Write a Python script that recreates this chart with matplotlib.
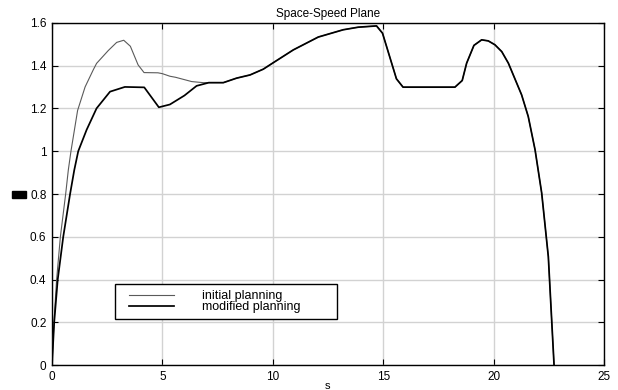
import matplotlib
matplotlib.use("Agg")
import matplotlib.pyplot as plt
from matplotlib.patches import Rectangle

plt.rcParams['font.family'] = ['Liberation Sans', 'DejaVu Sans']

# ---- data ----
s_initial_start = [0, 0.09, 0.21, 0.38, 0.62, 0.74, 0.86, 1.16, 1.5, 1.87, 2.02, 2.55, 2.93,
                   3.25, 3.55, 3.9, 4.17, 4.8, 5.0, 5.34, 5.6, 6.33, 6.85, 7.1]
v_initial_start = [0, 0.2, 0.4, 0.6, 0.8, 0.912, 1.0, 1.19, 1.30, 1.38, 1.41, 1.47, 1.508,
                   1.518, 1.49, 1.403, 1.367, 1.366, 1.362, 1.35, 1.345, 1.325, 1.32, 1.32]

s_modified_start = [0, 0.1, 0.26, 0.51, 0.82, 1.01, 1.19, 1.57, 2.02, 2.63, 3.3, 4.18,
                    4.84, 5.34, 6.0, 6.55, 7.1]
v_modified_start = [0, 0.2, 0.4, 0.6, 0.8, 0.912, 1.0, 1.1, 1.2, 1.278, 1.30, 1.298,
                    1.205, 1.218, 1.26, 1.305, 1.32]

s_common = [7.76, 8.36, 8.97, 9.57, 9.99, 10.93, 12.06, 13.19, 13.87, 14.7, 14.97, 15.6,
            15.9, 18.25, 18.58, 18.78, 19.11, 19.46, 19.76, 20.06, 20.37, 20.67, 21.27,
            21.57, 21.88, 22.18, 22.48, 22.74]
v_common = [1.32, 1.341, 1.356, 1.383, 1.411, 1.473, 1.533, 1.567, 1.579, 1.585, 1.551,
            1.338, 1.299, 1.299, 1.33, 1.411, 1.494, 1.52, 1.515, 1.497, 1.465, 1.411,
            1.263, 1.162, 1.006, 0.804, 0.507, 0.0]

x_ticks = [0, 5, 10, 15, 20, 25]
y_ticks = [0, 0.2, 0.4, 0.6, 0.8, 1.0, 1.2, 1.4, 1.6]
y_tick_labels = ['0', '0.2', '0.4', '0.6', '0.8', '1', '1.2', '1.4', '1.6']
series_labels = ['initial planning', 'modified planning']
title = 'Space-Speed Plane'
x_label = 's'

# ---- figure ----
fig = plt.figure(figsize=(6.18, 3.90), dpi=100)
ax = fig.add_axes([0.0841, 0.0633, 0.8932, 0.8785])

s_init = s_initial_start + s_common
v_init = v_initial_start + v_common
s_mod = s_modified_start + s_common
v_mod = v_modified_start + v_common

ax.plot(s_init, v_init, color='#5a5a5a', lw=0.8, label=series_labels[0], zorder=3)
ax.plot(s_mod, v_mod, color='black', lw=1.25, label=series_labels[1], zorder=4)

ax.set_xlim(0, 25)
ax.set_ylim(0, 1.6)
ax.set_xticks(x_ticks)
ax.set_yticks(y_ticks)
ax.set_yticklabels(y_tick_labels)
ax.grid(True, color='#d2d2d2', lw=1.0)
ax.set_axisbelow(True)
ax.tick_params(direction='in', length=4, width=0.8, labelsize=8.5,
               top=True, right=True, pad=4, colors='black')
for sp in ax.spines.values():
    sp.set_linewidth(1.0)
    sp.set_color('black')

ax.set_title(title, fontsize=8.5, pad=4)
ax.set_xlabel(x_label, fontsize=8)
ax.xaxis.set_label_coords(0.5, -0.047)

leg = ax.legend(loc='upper left', bbox_to_anchor=(0.140, 0.219), frameon=False,
                fontsize=9, handlelength=3.58, handletextpad=2.2,
                labelspacing=-0.1, borderpad=0, borderaxespad=0)
ax.add_patch(Rectangle((0.114, 0.134), 0.403, 0.103, transform=ax.transAxes,
                       fill=True, facecolor='white', edgecolor='black', lw=1.0, zorder=5))
leg.set_zorder(6)

fig.add_artist(Rectangle((0.0194, 0.4915), 0.0227, 0.0197, transform=fig.transFigure,
                         facecolor='black', edgecolor='black'))

fig.savefig('out.png', dpi=100)
